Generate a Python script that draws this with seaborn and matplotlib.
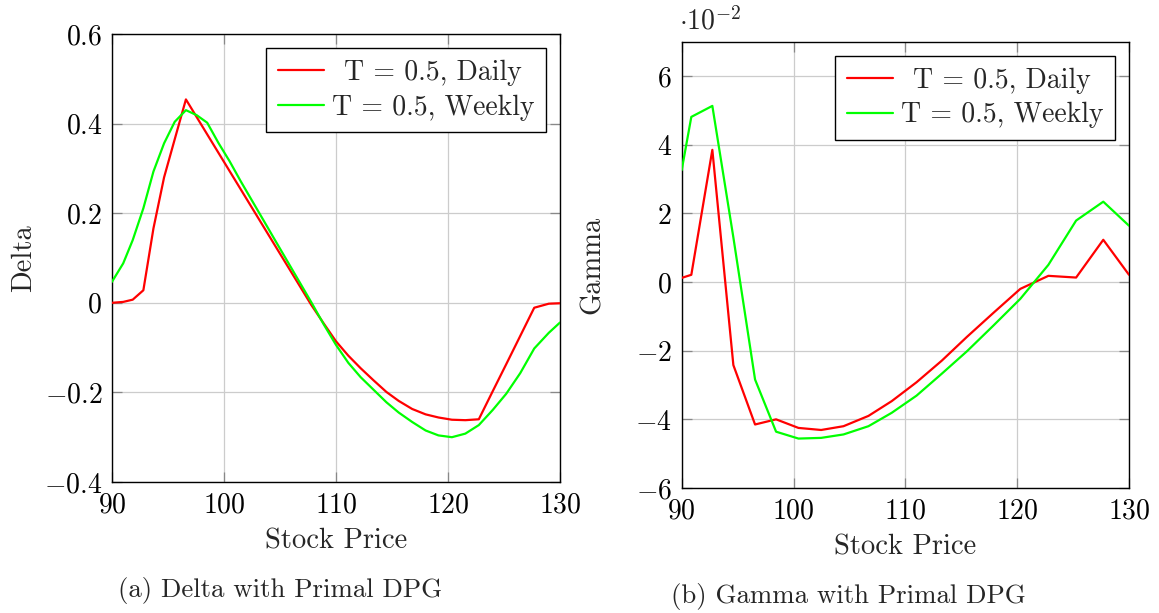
import matplotlib
matplotlib.use("Agg")
import matplotlib.pyplot as plt
import matplotlib.ticker as mticker
import pandas as pd
import seaborn as sns

# Delta panel: stock price grid and values
delta_price = [90.0, 91.0, 91.85, 92.8, 93.7, 94.65, 95.6, 96.6, 97.55, 98.5,
               99.5, 100.5, 101.5, 102.55, 103.6, 104.6, 105.7, 106.75, 107.8, 108.9,
               110.0, 111.1, 112.2, 113.35, 114.5, 115.6, 116.8, 118.0, 119.15, 120.35,
               121.55, 122.75, 124.0, 125.2, 126.45, 127.7, 129.0, 130.0]
delta_daily = [0.0, 0.002, 0.007, 0.028, 0.166, 0.280, 0.365, 0.454, 0.415, 0.376,
               0.335, 0.294, 0.253, 0.210, 0.167, 0.126, 0.081, 0.038, -0.005, -0.046,
               -0.086, -0.118, -0.146, -0.173, -0.199, -0.219, -0.237, -0.249, -0.256, -0.261,
               -0.262, -0.260, -0.197, -0.137, -0.074, -0.011, -0.002, -0.001]
delta_weekly = [0.047, 0.088, 0.140, 0.211, 0.293, 0.356, 0.404, 0.430, 0.419, 0.402,
                0.357, 0.316, 0.271, 0.226, 0.181, 0.138, 0.091, 0.046, 0.001, -0.048,
                -0.094, -0.134, -0.166, -0.194, -0.222, -0.245, -0.266, -0.285, -0.296, -0.300,
                -0.292, -0.273, -0.239, -0.203, -0.157, -0.102, -0.067, -0.044]

# Gamma panel: coarser stock price grid and values
gamma_price = [90.0, 90.86, 92.74, 94.62, 96.56, 98.44, 100.44, 102.47, 104.47, 106.7,
               108.78, 111.0, 113.26, 115.5, 117.87, 120.28, 122.79, 125.27, 127.7, 130.0]
gamma_daily = [0.0012, 0.0021, 0.0385, -0.0242, -0.0415, -0.0400, -0.0425, -0.0431, -0.0420, -0.0390,
               -0.0347, -0.0292, -0.0229, -0.0160, -0.0090, -0.0020, 0.0018, 0.0013, 0.0123, 0.0021]
gamma_weekly = [0.0326, 0.0481, 0.0513, 0.0130, -0.0284, -0.0436, -0.0456, -0.0454, -0.0444, -0.0420,
                -0.0381, -0.0331, -0.0267, -0.0202, -0.0127, -0.0049, 0.0050, 0.0179, 0.0234, 0.0164]

series_labels = ["T = 0.5, Daily", "T = 0.5, Weekly"]
series_colors = ["#ff0000", "#00ff00"]

price_ticks = [90, 100, 110, 120, 130]
delta_yticks = [-0.4, -0.2, 0.0, 0.2, 0.4, 0.6]
gamma_yticks = [-0.06, -0.04, -0.02, 0.0, 0.02, 0.04, 0.06]

sns.set_theme(style="white")
plt.rcParams.update({
    "font.family": ["cmr10", "DejaVu Serif"],
    "mathtext.fontset": "cm",
    "axes.formatter.use_mathtext": True,
    "axes.unicode_minus": False,
})

TICK_FS = 20
LABEL_FS = 20.5
LEGEND_FS = 20
CAPTION_FS = 19.3

fig = plt.figure(figsize=(11.59, 6.13), dpi=100)
W, H = 1159, 613


def px_axes(x0, y0, x1, y1):
    return fig.add_axes([x0 / W, 1 - y1 / H, (x1 - x0) / W, (y1 - y0) / H])


ax1 = px_axes(112, 34, 560, 482)
ax2 = px_axes(681.7, 41.7, 1129, 488)


def long_frame(price, daily, weekly):
    n = len(price)
    return pd.DataFrame({
        "price": price * 2,
        "value": daily + weekly,
        "series": [series_labels[0]] * n + [series_labels[1]] * n,
    })


delta_df = long_frame(delta_price, delta_daily, delta_weekly)
gamma_df = long_frame(gamma_price, gamma_daily, gamma_weekly)

palette = dict(zip(series_labels, series_colors))
legends = []
for ax, df in ((ax1, delta_df), (ax2, gamma_df)):
    sns.lineplot(data=df, x="price", y="value", hue="series", palette=palette,
                 hue_order=series_labels, sort=False, estimator=None,
                 linewidth=1.6, ax=ax, zorder=3)
    ax.set_xlim(90, 130)
    ax.set_xticks(price_ticks)
    ax.xaxis.set_major_formatter(mticker.FuncFormatter(lambda v, p: f"${v:.0f}$"))
    ax.grid(True, color="#cccccc", linewidth=0.9, zorder=0)
    ax.tick_params(direction="in", length=7, width=0.9, color="#888888",
                   top=True, right=True, bottom=True, left=True,
                   labelsize=TICK_FS, labelcolor="black")
    ax.tick_params(axis="x", pad=7)
    ax.tick_params(axis="y", pad=7)
    for s in ax.spines.values():
        s.set_color("black")
        s.set_linewidth(1.0)
    ax.set_xlabel("Stock Price", fontsize=LABEL_FS, labelpad=7)
    leg = ax.legend(loc="upper right", fontsize=LEGEND_FS, frameon=True, fancybox=False,
                    edgecolor="black", framealpha=1, borderaxespad=0.5,
                    handlelength=1.65, handletextpad=0.3, borderpad=0.42,
                    labelspacing=0.3)
    leg.get_frame().set_linewidth(1.0)
    for line in leg.get_lines():
        line.set_linewidth(1.6)
    legends.append(leg)

ax1.set_ylim(-0.4, 0.6)
ax1.set_yticks(delta_yticks)
ax1.yaxis.set_major_formatter(mticker.FuncFormatter(
    lambda v, p: "$0$" if abs(v) < 1e-9 else f"${v:.1f}$"))
ax1.set_ylabel("Delta", fontsize=LABEL_FS, labelpad=5)

ax2.set_ylim(-0.06, 0.07)
ax2.set_yticks(gamma_yticks)
ax2.yaxis.set_major_formatter(mticker.FuncFormatter(lambda v, p: f"${v * 100:.0f}$"))
ax2.set_ylabel("Gamma", fontsize=LABEL_FS, labelpad=21)
ax2.text(-0.005, 1.015, r"$\cdot 10^{-2}$", transform=ax2.transAxes,
         ha="left", va="bottom", fontsize=TICK_FS)

fig.text(280 / W, 1 - 590 / H, "(a) Delta with Primal DPG", ha="center", va="center",
         fontsize=CAPTION_FS)
fig.text(848 / W, 1 - 597 / H, "(b) Gamma with Primal DPG", ha="center", va="center",
         fontsize=CAPTION_FS)

# centre each legend entry within the text column
fig.canvas.draw()
for leg in legends:
    texts = leg.get_texts()
    widths = [t.get_window_extent().width for t in texts]
    wmax = max(widths)
    for t, w in zip(texts, widths):
        t.set_x((wmax - w) / 2)

fig.savefig("out.png", dpi=100)
